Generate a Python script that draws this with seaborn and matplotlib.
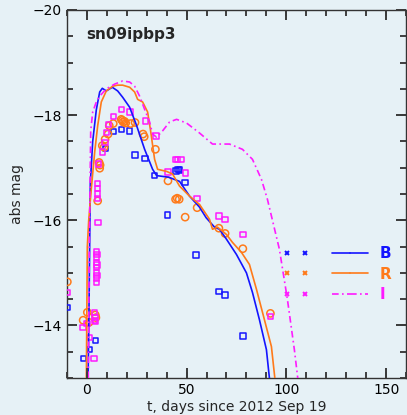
import numpy as np
import pandas as pd
import seaborn as sns
import matplotlib.pyplot as plt
import matplotlib.transforms as mtransforms
from matplotlib.lines import Line2D
from matplotlib.legend_handler import HandlerTuple
from matplotlib.ticker import MultipleLocator

# model light curves (days since 2012 Sep 19, absolute magnitude)
B_line_t = [0.7, 1.2, 1.5, 1.8, 3, 4.8, 6.5, 7.8, 9.8, 12.8, 15.5, 18, 21.5, 25, 29, 33, 35, 41,
            46.5, 51.5, 56.5, 59.8, 64, 66.5, 70, 75, 80, 83, 86.5, 90, 91.5, 92.5]
B_line_m = [-13.0, -14.5, -15.6, -16.7, -17.5, -18.1, -18.44, -18.51, -18.46, -18.53, -18.46, -18.34,
            -18.15, -17.8, -17.35, -16.97, -16.85, -16.82, -16.74, -16.46, -16.25, -16.05, -15.87,
            -15.83, -15.64, -15.35, -15.0, -14.63, -14.11, -13.54, -13.0, -12.8]

R_line_t = [-0.2, 0.3, 1.0, 2.3, 4, 5.5, 7.3, 9.8, 13, 15.5, 18, 21.5, 24, 25.5, 28, 30.5, 32, 34,
            35.5, 40, 43, 46.5, 51.5, 56.5, 61.5, 63, 65.5, 70, 73, 77.5, 81.5, 85, 89, 92.5, 94.5]
R_line_m = [-12.9, -15.5, -16.0, -16.6, -17.3, -17.8, -18.25, -18.46, -18.55, -18.57, -18.57, -18.53,
            -18.44, -18.3, -18.25, -18.06, -17.7, -17.16, -16.97, -16.93, -16.88, -16.65, -16.46,
            -16.3, -16.02, -15.83, -15.87, -15.73, -15.58, -15.39, -15.16, -14.69, -14.11, -13.6, -12.9]

I_line_t = [0.8, 1.3, 2, 3, 4.8, 6.5, 9.8, 14, 18, 21.5, 24, 26.5, 29, 31.5, 33, 35, 38, 41.5, 45,
            50, 56.5, 63, 71.5, 78, 83, 87.5, 90.5, 96.5, 100.5, 104, 106]
I_line_m = [-13.0, -15.5, -17.7, -18.06, -18.25, -18.36, -18.5, -18.59, -18.65, -18.63, -18.55,
            -18.36, -18.11, -17.87, -17.64, -17.58, -17.7, -17.87, -17.92, -17.85, -17.66, -17.45,
            -17.45, -17.35, -17.16, -16.78, -16.4, -15.45, -14.5, -13.54, -12.9]

# observed photometry
B_pt_t = [-9.7, -1.5, 1.5, 4.3, 9.5, 13.3, 17.5, 21.3, 24.2, 29.2, 34.1, 40.5, 44.8, 45.7, 46.5,
          49.3, 54.8, 66.2, 69.3, 78.2]
B_pt_m = [-14.34, -13.37, -13.54, -13.72, -17.37, -17.69, -17.73, -17.7, -17.24, -17.18, -16.85,
          -16.1, -16.94, -16.97, -16.96, -16.72, -15.34, -14.65, -14.58, -13.8]

R_pt_t = [-9.7, -1.8, 0.3, 1.2, 4.3, 4.6, 5.5, 6.2, 6.5, 6.7, 7.8, 8.7, 9.2, 10.7, 11.3, 13.3, 17.3,
          17.8, 18.2, 19.0, 19.5, 22.0, 24.2, 28.2, 28.8, 34.4, 40.7, 44.5, 45.3, 46.3, 49.3, 55.3,
          66.2, 69.3, 78.2, 92.0]
R_pt_m = [-14.83, -14.1, -14.25, -14.06, -14.2, -14.15, -16.37, -17.1, -16.99, -17.05, -17.42,
          -17.39, -17.54, -17.64, -17.8, -17.84, -17.92, -17.9, -17.87, -17.88, -17.85, -17.84,
          -17.86, -17.64, -17.59, -17.35, -16.75, -16.4, -16.42, -16.4, -16.06, -16.24, -15.85,
          -15.75, -15.46, -14.23]

I_pt_t = [-9.7, -1.8, 0.2, 1.5, 3.7, 3.8, 4.0, 4.2, 4.4,
          4.9, 4.9, 4.9, 4.9, 4.9, 4.9, 4.9, 5.1, 5.1, 5.1,
          5.3, 5.3, 5.3, 5.3, 5.7, 5.8, 7.8, 9.2, 10.0, 10.8, 13.3, 17.5, 21.7, 29.4, 34.7,
          40.7, 44.5, 45.5, 47.3, 49.5, 55.3, 66.2, 69.3, 78.2, 92.0]
I_pt_m = [-14.63, -13.96, -14.04, -13.77, -13.37, -14.1, -14.25, -14.15, -14.08,
          -15.4, -15.3, -15.2, -15.1, -15.0, -14.9, -14.82, -15.35, -15.15, -14.95,
          -16.7, -16.6, -16.5, -16.42, -15.96, -17.07, -17.3, -17.48, -17.67, -17.82, -17.97,
          -18.11, -18.06, -17.89, -17.6, -16.92, -17.16, -17.16, -17.16, -16.9, -16.41, -16.08,
          -16.02, -15.73, -14.17]

bands = ['B', 'R', 'I']
colors = {'B': '#1414ff', 'R': '#ff7a1a', 'I': '#ff1aff'}
bg = '#e6f1f6'
tick_col = '#3a3a3a'

lines = pd.concat([
    pd.DataFrame({'t': B_line_t, 'mag': B_line_m, 'band': 'B'}),
    pd.DataFrame({'t': R_line_t, 'mag': R_line_m, 'band': 'R'}),
    pd.DataFrame({'t': I_line_t, 'mag': I_line_m, 'band': 'I'}),
])
pts = pd.concat([
    pd.DataFrame({'t': B_pt_t, 'mag': B_pt_m, 'band': 'B'}),
    pd.DataFrame({'t': R_pt_t, 'mag': R_pt_m, 'band': 'R'}),
    pd.DataFrame({'t': I_pt_t, 'mag': I_pt_m, 'band': 'I'}),
])

sns.set_style('ticks')
plt.rcParams['font.family'] = ['DejaVu Sans']

fig, ax = plt.subplots(figsize=(4.07, 4.15), dpi=100)
fig.patch.set_facecolor(bg)
ax.set_facecolor(bg)
fig.subplots_adjust(left=0.164, right=0.998, bottom=0.089, top=0.976)

styles = {'B': '-', 'R': '-', 'I': (0, (4, 2, 1, 2))}
markers = {'B': 's', 'R': 'o', 'I': 's'}
sizes = {'B': 15, 'R': 27, 'I': 15}

for b in bands:
    d = pts[pts.band == b]
    sns.scatterplot(x=d['t'], y=d['mag'], marker=markers[b], s=sizes[b], facecolor='none',
                    edgecolor=colors[b], linewidth=1.1, ax=ax, legend=False, zorder=3)
for b in bands:
    d = lines[lines.band == b]
    sns.lineplot(x=d['t'], y=d['mag'], sort=False, estimator=None, color=colors[b],
                 linestyle=styles[b], linewidth=1.2, ax=ax, legend=False, zorder=4)

for sp in ax.spines.values():
    sp.set_color('#333333')
    sp.set_linewidth(1)

ax.set_xlabel('t, days since 2012 Sep 19', fontsize=10, labelpad=2)
ax.set_ylabel('abs mag', fontsize=10, labelpad=6)
ax.text(0.056, 0.932, 'sn09ipbp3', transform=ax.transAxes, fontsize=11,
        fontweight='bold', va='center', ha='left')

# legend: two crosses, a gap, then the line sample
handles = []
for b in bands:
    mk = Line2D([], [], ls='none', marker='x', ms=3.5, mew=1.4, color=colors[b])
    blank = Line2D([], [], ls='none')
    ln = Line2D([], [], ls=styles[b], lw=1.2, color=colors[b])
    handles.append((mk, mk, blank, ln, ln))
leg = ax.legend(handles, bands, handler_map={tuple: HandlerTuple(ndivide=None, pad=0)},
                loc='upper left', bbox_to_anchor=(0.621, 0.358), frameon=False,
                borderpad=0, borderaxespad=0, handlelength=5.9, handletextpad=0.8,
                labelspacing=0.36, numpoints=1, prop={'size': 11, 'weight': 'bold'})
for txt, b in zip(leg.get_texts(), bands):
    txt.set_color(colors[b])

# axis limits and ticks
ax.set_xlim(-10, 160)
ax.set_ylim(-13, -20)
ax.xaxis.set_major_locator(MultipleLocator(50))
ax.xaxis.set_minor_locator(MultipleLocator(10))
ax.yaxis.set_major_locator(MultipleLocator(2))
ax.yaxis.set_minor_locator(MultipleLocator(0.5))
ax.tick_params(which='both', direction='in', top=True, right=True, bottom=True, left=True,
               color=tick_col, labelcolor='black', labelsize=10)
ax.tick_params(which='major', length=7.5, width=1.2)
ax.tick_params(which='minor', length=4.5, width=1.1)

# inward tick marks on all four sides, at the locator positions
xtr = mtransforms.blended_transform_factory(ax.transData, ax.transAxes)
ytr = mtransforms.blended_transform_factory(ax.transAxes, ax.transData)
x0, x1 = sorted(ax.get_xlim())
y0, y1 = sorted(ax.get_ylim())
for loc, size, w in [(ax.xaxis.get_major_locator(), 7.5, 1.2), (ax.xaxis.get_minor_locator(), 4.5, 1.1)]:
    xs = [v for v in loc.tick_values(x0, x1) if x0 <= v <= x1]
    ax.plot(xs, [0] * len(xs), transform=xtr, ls='none', marker=2, ms=size, mew=w,
            color=tick_col, clip_on=False, zorder=5)
    ax.plot(xs, [1] * len(xs), transform=xtr, ls='none', marker=3, ms=size, mew=w,
            color=tick_col, clip_on=False, zorder=5)
for loc, size, w in [(ax.yaxis.get_major_locator(), 7.5, 1.2), (ax.yaxis.get_minor_locator(), 4.5, 1.1)]:
    ys = [v for v in loc.tick_values(y0, y1) if y0 <= v <= y1]
    ax.plot([0] * len(ys), ys, transform=ytr, ls='none', marker=1, ms=size, mew=w,
            color=tick_col, clip_on=False, zorder=5)
    ax.plot([1] * len(ys), ys, transform=ytr, ls='none', marker=0, ms=size, mew=w,
            color=tick_col, clip_on=False, zorder=5)

ax.set_xlim(-10, 160)
ax.set_ylim(-13, -20)

fig.savefig('out.png', dpi=100, facecolor=bg)
